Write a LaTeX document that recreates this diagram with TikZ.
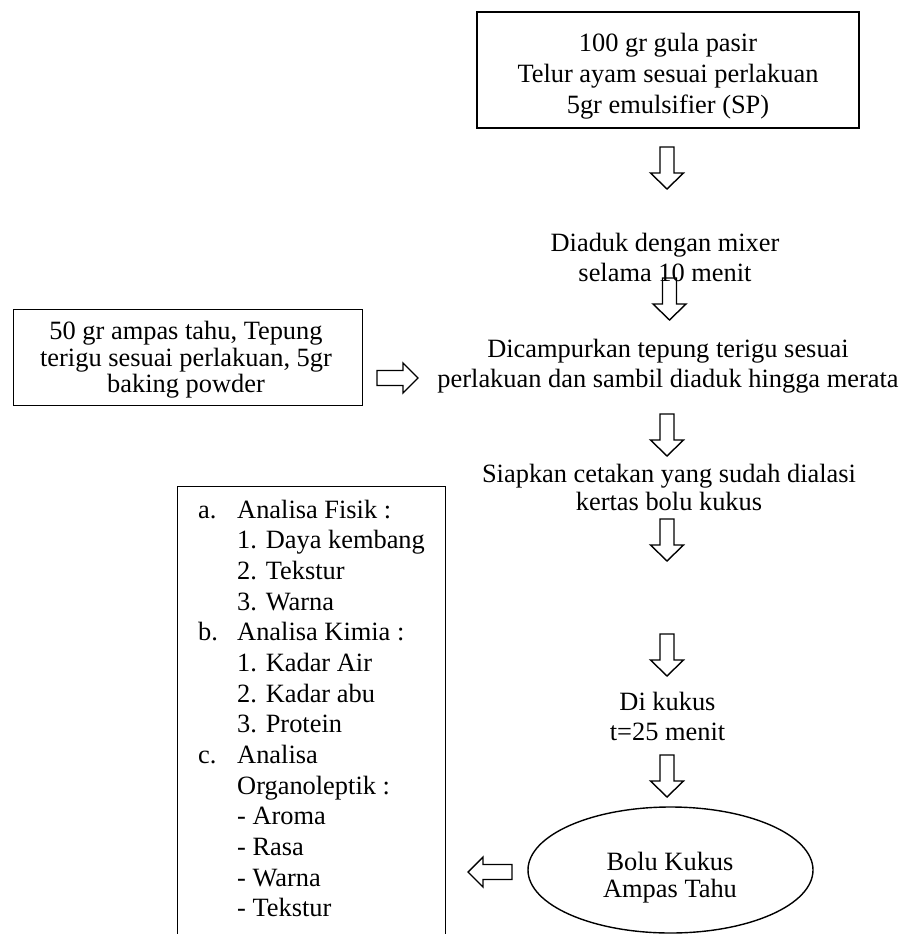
\documentclass[tikz,border=0pt]{standalone}
\usepackage{fontspec}
\setmainfont{Liberation Serif}
\usetikzlibrary{shapes.geometric}
\begin{document}
\begin{tikzpicture}[x=1pt,y=-1pt,
  frame/.style={draw, line width=1.4pt, inner sep=0pt},
  txt/.style={align=center, inner sep=0pt, font=\fontsize{26.4}{#1}\selectfont},
  txt/.default=30,
  blk/.style={draw, line width=1.4pt, line join=miter},
  darr/.pic={\draw[blk] (-7,0) -- (7,0) -- (7,26) -- (16.5,26) -- (0,42) -- (-16.5,26) -- (-7,26) -- cycle;},
  rarr/.pic={\draw[blk] (0,-7.5) -- (26,-7.5) -- (26,-15) -- (41,0) -- (26,15) -- (26,7.5) -- (0,7.5) -- cycle;},
  larr/.pic={\draw[blk] (0,-7.5) -- (-29,-7.5) -- (-29,-15) -- (-44,0) -- (-29,15) -- (-29,7.5) -- (0,7.5) -- cycle;}
]
\useasboundingbox (0,0) rectangle (903,934);

% top box
\node[frame, minimum width=382, minimum height=116] (box1) at (668,70) {};
\node[txt=31] (t1) at (668,76) {\strut 100 gr gula pasir\\ \strut Telur ayam sesuai perlakuan\\ \strut 5gr emulsifier (SP)};

\pic (a1) at (667,147) {darr};

\node[txt=30] (t2) at (665,260.5) {\strut Diaduk dengan mixer\\ \strut selama 10 menit};

\pic (a2) at (669.5,278) {darr};

\node[txt=30] (t3) at (668,366) {\strut Dicampurkan tepung terigu sesuai\\ \strut perlakuan dan sambil diaduk hingga merata};

% left input box
\node[frame, anchor=north west, minimum width=349, minimum height=96] (box2) at (13,309) {};
\node[txt=26.5] (t4) at (186,361) {\strut 50 gr ampas tahu, Tepung\\ \strut terigu sesuai perlakuan, 5gr\\ \strut baking powder};

\pic (ar) at (377,378) {rarr};

\pic (a3) at (667,414) {darr};

\node[txt=28] (t5) at (669,490.5) {\strut Siapkan cetakan yang sudah dialasi\\ \strut kertas bolu kukus};

\pic (a4) at (667,519) {darr};
\pic (a5) at (667,634) {darr};

\node[txt=30] (t6) at (667.5,719.5) {\strut Di kukus\\ \strut t=25 menit};

\pic (a6) at (667,755) {darr};

% final product
\node[draw, ellipse, line width=1.4pt, inner sep=0pt, minimum width=285, minimum height=126] (bolu) at (670.5,870) {};
\node[txt=27] (t7) at (670,879) {\strut Bolu Kukus\\ \strut Ampas Tahu};

\pic (al) at (512,872) {larr};

% analysis box
\node[frame, anchor=north west, minimum width=268, minimum height=500] (box3) at (177,486) {};
\node[anchor=north west, inner sep=0pt, align=left, font=\fontsize{26.4}{30.67}\selectfont] (t8) at (198,496.5) {%
\strut\makebox[39pt][l]{a.}Analisa Fisik :\\
\hspace*{39pt}1. Daya kembang\\
\hspace*{39pt}2. Tekstur\\
\hspace*{39pt}3. Warna\\
\makebox[39pt][l]{b.}Analisa Kimia :\\
\hspace*{39pt}1. Kadar Air\\
\hspace*{39pt}2. Kadar abu\\
\hspace*{39pt}3. Protein\\
\makebox[39pt][l]{c.}Analisa\\
\hspace*{39pt}Organoleptik :\\
\hspace*{39pt}- Aroma\\
\hspace*{39pt}- Rasa\\
\hspace*{39pt}- Warna\\
\hspace*{39pt}- Tekstur};
\end{tikzpicture}
\end{document}
